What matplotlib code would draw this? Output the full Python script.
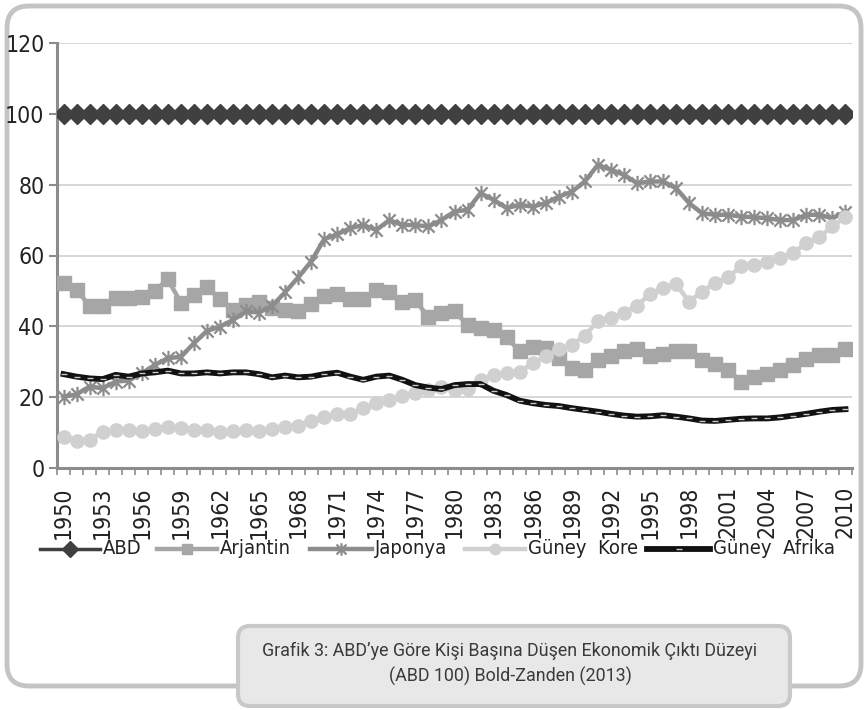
import matplotlib
matplotlib.use("Agg")
import matplotlib.pyplot as plt
from matplotlib import font_manager
from matplotlib.path import Path
from matplotlib.patches import FancyBboxPatch

# ---------------- data ----------------
years = list(range(1950, 2011))
label_years = years[::3]

abd = [100, 100, 100, 100, 100, 100, 100, 100, 100, 100,
       100, 100, 100, 100, 100, 100, 100, 100, 100, 100,
       100, 100, 100, 100, 100, 100, 100, 100, 100, 100,
       100, 100, 100, 100, 100, 100, 100, 100, 100, 100,
       100, 100, 100, 100, 100, 100, 100, 100, 100, 100,
       100, 100, 100, 100, 100, 100, 100, 100, 100, 100, 100]

arjantin = [52.2, 50.3, 45.8, 45.8, 47.9, 47.9, 48.4, 50.0, 53.3, 46.7,
            48.9, 51.2, 47.7, 44.6, 46.0, 47.0, 45.1, 44.6, 44.2, 46.3,
            48.7, 49.2, 47.7, 47.6, 50.3, 49.8, 47.0, 47.3, 42.6, 43.7,
            44.2, 40.4, 39.5, 39.0, 36.9, 32.9, 34.1, 33.8, 31.0, 28.2,
            27.7, 30.5, 31.6, 32.9, 33.5, 31.6, 32.2, 33.1, 33.1, 30.5,
            29.3, 27.7, 24.4, 25.8, 26.6, 27.7, 29.1, 30.7, 31.9, 31.9, 33.6]

japonya = [20.1, 20.8, 23.0, 22.5, 24.4, 24.7, 26.7, 29.1, 31.0, 31.4,
           35.2, 38.7, 39.9, 41.8, 44.2, 43.9, 45.8, 49.6, 53.8, 58.3,
           64.6, 66.0, 67.7, 68.6, 67.2, 70.0, 68.6, 68.6, 68.2, 70.0,
           72.4, 72.9, 77.6, 75.7, 73.4, 74.3, 73.8, 74.8, 76.6, 78.0,
           80.9, 85.6, 84.2, 82.8, 80.4, 80.9, 80.9, 79.0, 74.8, 71.9,
           71.5, 71.5, 71.0, 70.8, 70.5, 70.0, 70.0, 71.5, 71.5, 70.5, 72.4]

guney_kore = [8.8, 7.7, 7.9, 10.3, 10.7, 10.7, 10.5, 10.9, 11.7, 11.2,
              10.7, 10.7, 10.3, 10.5, 10.7, 10.5, 10.9, 11.5, 12.0, 13.4,
              14.3, 15.2, 15.3, 16.9, 18.3, 19.2, 20.4, 21.3, 22.0, 23.0,
              22.0, 22.3, 24.9, 26.3, 26.7, 27.2, 29.6, 31.6, 33.5, 34.7,
              37.3, 41.6, 42.3, 43.9, 45.8, 49.2, 50.8, 51.9, 47.0, 49.8,
              52.2, 53.9, 56.9, 57.3, 58.3, 59.2, 60.8, 63.5, 65.3, 68.2, 71.0]

guney_afrika = [26.5, 25.8, 25.3, 25.1, 26.3, 25.8, 26.7, 27.0, 27.5, 26.7,
                26.7, 27.0, 26.7, 27.0, 27.0, 26.5, 25.6, 26.1, 25.6, 25.8,
                26.5, 26.9, 25.8, 24.9, 25.8, 26.1, 24.9, 23.4, 22.7, 22.3,
                23.4, 23.7, 23.7, 21.8, 20.6, 19.0, 18.3, 17.8, 17.5, 16.9,
                16.4, 15.9, 15.3, 14.8, 14.5, 14.6, 14.9, 14.5, 14.0, 13.4,
                13.3, 13.6, 13.9, 14.0, 14.0, 14.3, 14.8, 15.3, 15.9, 16.4, 16.6]

series_names = ["ABD", "Arjantin", "Japonya", "Güney  Kore", "Güney  Afrika"]
y_ticks = [0, 20, 40, 60, 80, 100, 120]
caption = "Grafik 3: ABD\u2019ye Göre Kişi Başına Düşen Ekonomik Çıktı Düzeyi\n(ABD 100) Bold-Zanden (2013)"

# ---------------- fonts ----------------
available = {f.name for f in font_manager.fontManager.ttflist}
if "Liberation Sans Narrow" in available:
    COND = ["Liberation Sans Narrow", "DejaVu Sans"]
    cond_kw = {}
else:
    COND = ["DejaVu Sans"]
    cond_kw = {"fontstretch": "condensed"}
REG = ["Roboto", "Liberation Sans", "DejaVu Sans"]

W, H = 866, 710
fig = plt.figure(figsize=(W / 100, H / 100), dpi=100)

# background frame + caption box in pixel coordinates
bg = fig.add_axes([0, 0, 1, 1], zorder=-1)
bg.set_xlim(0, W)
bg.set_ylim(H, 0)
bg.axis("off")
frame = FancyBboxPatch((7, 6), 854, 680, boxstyle="round,pad=0,rounding_size=22",
                       linewidth=3.5, edgecolor="#c4c4c4", facecolor="white")
bg.add_patch(frame)
cap = FancyBboxPatch((238, 626), 552, 80, boxstyle="round,pad=0,rounding_size=12",
                     linewidth=3.0, edgecolor="#c8c8c8", facecolor="#e8e8e8")
bg.add_patch(cap)
bg.text(510, 664, caption, ha="center", va="center", fontsize=12.9,
        family=REG, fontweight="normal", color="#3a3a3a", linespacing=1.45)

# main plot
L, R, T, B = 57, 852, 43, 468
ax = fig.add_axes([L / W, 1 - B / H, (R - L) / W, (B - T) / H])
ax.set_facecolor("none")
x = list(range(len(years)))

star = Path([(0, -1), (0, 1), (-0.8, -0.8), (0.8, 0.8), (-0.8, 0.8), (0.8, -0.8)],
            [Path.MOVETO, Path.LINETO, Path.MOVETO, Path.LINETO, Path.MOVETO, Path.LINETO])

styles = [
    dict(color="#404040", lw=2.5, marker="D", markersize=10,
         markerfacecolor="#404040", markeredgecolor="#404040"),
    dict(color="#a6a6a6", lw=3.2, marker="s", markersize=9.5,
         markerfacecolor="#a6a6a6", markeredgecolor="#a6a6a6"),
    dict(color="#8c8c8c", lw=3.2, marker=star, markersize=11,
         markeredgewidth=1.6, markeredgecolor="#8c8c8c"),
    dict(color="#d0d0d0", lw=3.2, marker="o", markersize=9.5,
         markerfacecolor="#d0d0d0", markeredgecolor="#d0d0d0"),
    dict(color="#111111", lw=4.2, marker="_", markersize=5,
         markeredgewidth=1.0, markeredgecolor="#c8c8c8"),
]
all_series = [abd, arjantin, japonya, guney_kore, guney_afrika]
for vals, st, name in zip(all_series, styles, series_names):
    ax.plot(x, vals, zorder=3, label=name, **st)

ax.set_xlim(-0.5, len(years) - 0.5)
ax.set_ylim(0, 120)
ax.set_yticks(y_ticks)
ax.set_yticklabels([str(v) for v in y_ticks], family=COND, fontsize=16.5, color="#222222", **cond_kw)
ax.yaxis.grid(True, color="#d6d6d6", lw=1.4, zorder=0)
ax.set_axisbelow(True)

lab_pos = [years.index(yv) for yv in label_years]
ax.set_xticks(lab_pos)
ax.set_xticklabels([str(v) for v in label_years], rotation=90, family=COND,
                   fontsize=16.5, color="#222222", **cond_kw)
ax.set_xticks([i - 0.5 for i in range(len(years) + 1)], minor=True)
ax.tick_params(axis="x", which="major", length=0, pad=13)
ax.tick_params(axis="x", which="minor", length=5, width=1.2, color="#8c8c8c", direction="out")
ax.tick_params(axis="y", which="major", length=6, width=1.5, color="#8c8c8c", pad=3)

for s in ["top", "right"]:
    ax.spines[s].set_visible(False)
for s in ["left", "bottom"]:
    ax.spines[s].set_color("#8c8c8c")
    ax.spines[s].set_linewidth(2.2)

# manual legend (pixel layout)
leg_y = 549
handle_x = [(40, 100), (157, 217), (310, 372), (465, 525), (647, 710)]
leg_ms = [8, 7.5, 9, 7.5, 4]
for (hx0, hx1), st, name, ms in zip(handle_x, styles, series_names, leg_ms):
    st2 = dict(st)
    st2["markersize"] = ms
    bg.plot([hx0, (hx0 + hx1) / 2, hx1], [leg_y, leg_y, leg_y], markevery=[1], **st2)
    bg.text(hx1 + 3, leg_y, name, ha="left", va="center", family=COND, fontsize=14.5,
            color="#222222", **cond_kw)

fig.savefig("out.png", dpi=100)
